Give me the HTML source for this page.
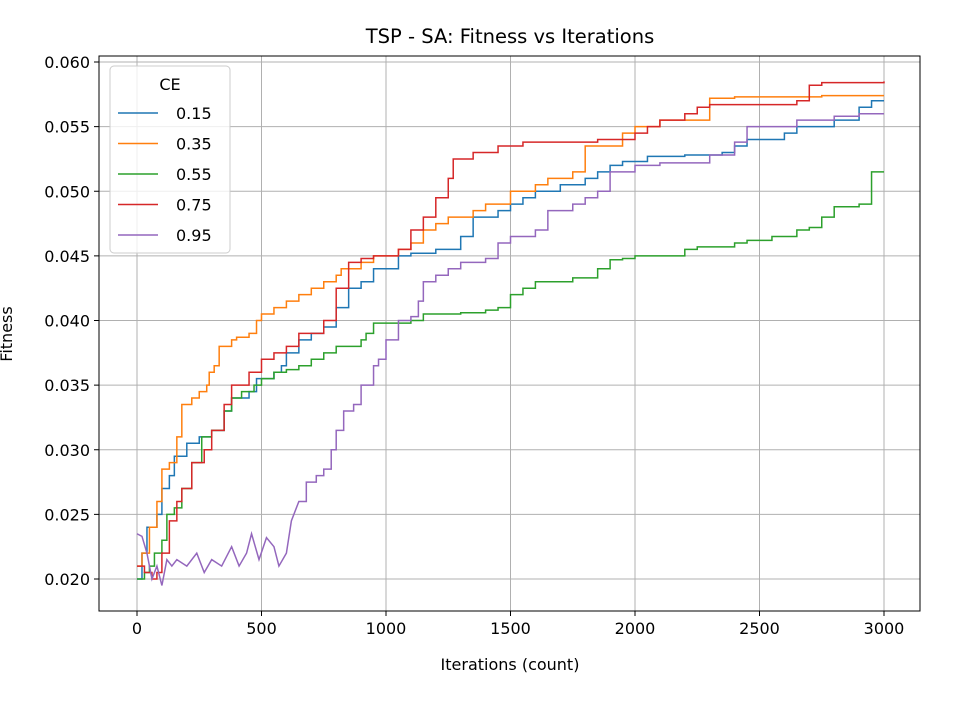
<!DOCTYPE html>
<html><head><meta charset="utf-8"><style>
body{margin:0;background:#fff}
svg text{font-family:"DejaVu Sans","Liberation Sans",sans-serif;fill:#000}
</style></head><body>
<svg id="chart" width="960" height="720">
<rect width="960" height="720" fill="#fff"/>
<g id="grid"></g><g id="series"></g><g id="axes"></g>
<text x="510" y="43" font-size="19.5" text-anchor="middle">TSP - SA: Fitness vs Iterations</text>
<text x="510" y="670" font-size="16" text-anchor="middle">Iterations (count)</text>
<text x="12" y="334" font-size="16" text-anchor="middle" transform="rotate(-90 12 334)">Fitness</text>
<g id="legend"></g>
</svg>
<script>
const xTicks=[0,500,1000,1500,2000,2500,3000];
const yTicks=[0.020,0.025,0.030,0.035,0.040,0.045,0.050,0.055,0.060];
const labels=["0.15","0.35","0.55","0.75","0.95"];
const colors=["#1f77b4","#ff7f0e","#2ca02c","#d62728","#9467bd"];
const it015=[0,20,40,80,100,130,150,200,250,300,350,380,450,480,550,580,600,650,700,750,800,850,900,950,1050,1100,1200,1300,1350,1450,1500,1550,1600,1700,1800,1850,1900,1950,2050,2200,2350,2400,2450,2600,2650,2800,2900,2950,3000];
const v015=[0.020,0.022,0.024,0.025,0.027,0.028,0.0295,0.0305,0.031,0.0315,0.033,0.034,0.0345,0.0355,0.036,0.0365,0.0375,0.0385,0.039,0.0395,0.041,0.0425,0.043,0.044,0.045,0.0452,0.0455,0.0465,0.048,0.0485,0.049,0.0495,0.050,0.0505,0.051,0.0515,0.052,0.0523,0.0527,0.0528,0.053,0.0535,0.054,0.0545,0.055,0.0555,0.0565,0.057,0.057];
const it035=[0,20,50,80,100,130,160,180,220,250,280,290,310,330,380,400,450,480,500,550,600,650,700,750,800,820,900,950,1050,1100,1150,1200,1250,1350,1400,1500,1600,1650,1750,1800,1900,1950,2000,2100,2250,2300,2400,2750,3000];
const v035=[0.021,0.022,0.024,0.026,0.0285,0.029,0.031,0.0335,0.034,0.0345,0.035,0.036,0.0365,0.038,0.0385,0.0387,0.039,0.040,0.0405,0.041,0.0415,0.042,0.0425,0.043,0.0435,0.044,0.0445,0.045,0.0455,0.046,0.047,0.0475,0.048,0.0485,0.049,0.050,0.0505,0.051,0.0515,0.0535,0.0535,0.0545,0.055,0.0555,0.0555,0.0572,0.0573,0.0574,0.0574];
const it055=[0,30,50,70,100,120,150,180,220,260,300,350,380,420,470,500,550,600,650,700,750,800,900,920,950,1100,1150,1300,1400,1450,1500,1550,1600,1750,1850,1900,1950,2000,2200,2250,2400,2450,2550,2650,2700,2750,2800,2900,2950,3000];
const v055=[0.020,0.0205,0.021,0.022,0.023,0.025,0.0255,0.027,0.029,0.031,0.0315,0.033,0.034,0.0345,0.035,0.0355,0.036,0.0362,0.0365,0.037,0.0375,0.038,0.0385,0.039,0.0398,0.040,0.0405,0.0406,0.0408,0.041,0.042,0.0425,0.043,0.0433,0.044,0.0447,0.0448,0.045,0.0455,0.0457,0.046,0.0462,0.0465,0.047,0.0472,0.048,0.0488,0.049,0.0515,0.0515];
const it075=[0,30,60,80,100,130,160,180,220,270,300,350,380,450,500,550,600,650,750,800,850,900,950,1050,1100,1150,1200,1250,1270,1350,1450,1550,1850,2000,2050,2100,2200,2250,2300,2650,2700,2750,3000];
const v075=[0.021,0.0205,0.020,0.0205,0.022,0.0245,0.026,0.027,0.029,0.030,0.0315,0.0335,0.035,0.036,0.037,0.0375,0.038,0.039,0.040,0.0425,0.0445,0.0448,0.045,0.0455,0.047,0.048,0.0495,0.051,0.0525,0.053,0.0535,0.0538,0.054,0.0545,0.055,0.0555,0.056,0.0565,0.0567,0.057,0.0582,0.0584,0.0585];
const it095=[0,20,40,60,80,100,120,140,160,200,240,270,300,340,380,410,440,460,490,520,550,570,600,620,650,680,720,750,780,800,830,870,900,950,970,1000,1050,1100,1130,1150,1200,1250,1300,1400,1450,1500,1600,1650,1750,1800,1850,1900,2000,2100,2300,2400,2450,2650,2800,2900,3000];
const v095=[0.0235,0.0233,0.022,0.020,0.021,0.0195,0.0215,0.021,0.0215,0.021,0.022,0.0205,0.0215,0.021,0.0225,0.021,0.022,0.0235,0.0215,0.0232,0.0225,0.021,0.022,0.0245,0.026,0.0275,0.028,0.0285,0.030,0.0315,0.033,0.0335,0.035,0.0365,0.037,0.0385,0.040,0.0403,0.0415,0.043,0.0435,0.044,0.0445,0.0448,0.046,0.0465,0.047,0.0485,0.049,0.0495,0.050,0.0515,0.052,0.0522,0.0528,0.0538,0.055,0.0555,0.0558,0.056,0.056];
const its=[it015,it035,it055,it075,it095], vals=[v015,v035,v055,v075,v095];
const NS="http://www.w3.org/2000/svg";
const L=99,R=920,T=56,B=611;
const xs=v=>137+v*(884-137)/3000;
const ys=v=>579-(v-0.020)*(579-62)/0.040;
function mk(tag,attrs,parent){const e=document.createElementNS(NS,tag);for(const k in attrs)e.setAttribute(k,attrs[k]);parent.appendChild(e);return e;}
const grid=document.getElementById('grid'),axes=document.getElementById('axes'),ser=document.getElementById('series'),leg=document.getElementById('legend');
xTicks.forEach(t=>{const x=xs(t);
 const g=mk('line',{x1:x,x2:x,y1:T,y2:B,stroke:'#b0b0b0','stroke-width':1},grid);
 
 
 mk('line',{x1:x,x2:x,y1:B,y2:B+5,stroke:'#000'},axes);
 const tx=mk('text',{x:x,y:B+23,'font-size':16,'text-anchor':'middle'},axes);tx.textContent=t;
 
 
});
yTicks.forEach(t=>{const y=ys(t);
 const g=mk('line',{x1:L,x2:R,y1:y,y2:y,stroke:'#b0b0b0','stroke-width':1},grid);
 
 
 mk('line',{x1:L-5,x2:L,y1:y,y2:y,stroke:'#000'},axes);
 const tx=mk('text',{x:L-9,y:y+6,'font-size':16,'text-anchor':'end'},axes);tx.textContent=t.toFixed(3);
 
 
});
const fr=mk('rect',{x:L,y:T,width:R-L,height:B-T,fill:'none',stroke:'#000','stroke-width':1},axes);


its.forEach((xa,i)=>{const va=vals[i];let d='';
 xa.forEach((x,j)=>{
  if(j===0)d+='M'+xs(x)+','+ys(va[j]);
  else if(i===4&&x<=650)d+='L'+xs(x)+','+ys(va[j]);
  else d+='H'+xs(x)+'V'+ys(va[j]);});
 const p=mk('path',{d:d,fill:'none',stroke:colors[i],'stroke-width':1.5},ser);
 
 
});
const box=mk('rect',{x:110,y:66,width:120,height:187,rx:4,fill:'#fff','fill-opacity':0.8,stroke:'#ccc'},leg);


const lt=mk('text',{x:170,y:90,'font-size':16,'text-anchor':'middle'},leg);lt.textContent='CE';


labels.forEach((l,i)=>{const y=113+i*30.5;
 const g=mk('g',{},leg);
 
 
 mk('line',{x1:118,x2:158,y1:y,y2:y,stroke:colors[i],'stroke-width':1.5},g);
 const t=mk('text',{x:176,y:y+6,'font-size':16},g);t.textContent=l;
});
</script>
</body></html>
